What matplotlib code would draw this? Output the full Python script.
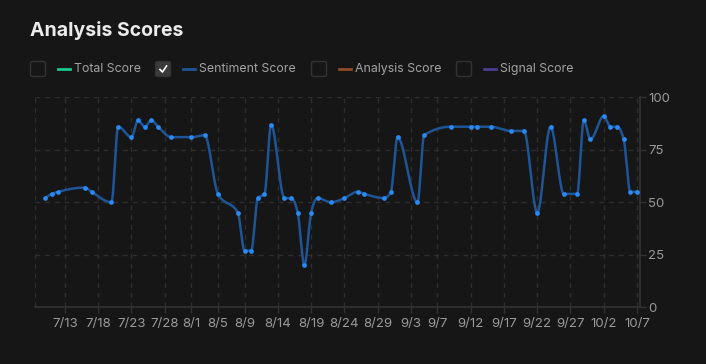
import matplotlib
matplotlib.use("Agg")
import matplotlib.pyplot as plt
import matplotlib.dates as mdates
from matplotlib.patches import FancyBboxPatch
from matplotlib.lines import Line2D
import numpy as np
import datetime as dt

# ---- data ----
dates = ["07-10", "07-11", "07-12", "07-16", "07-17", "07-20", "07-21", "07-23", "07-24",
         "07-25", "07-26", "07-27", "07-29", "08-01", "08-03", "08-05", "08-08", "08-09",
         "08-10", "08-11", "08-12", "08-13", "08-15", "08-16", "08-17", "08-18", "08-19",
         "08-20", "08-22", "08-24", "08-26", "08-27", "08-30", "08-31", "09-01", "09-04",
         "09-05", "09-09", "09-12", "09-13", "09-15", "09-18", "09-20", "09-22", "09-24",
         "09-26", "09-28", "09-29", "09-30", "10-02", "10-03", "10-04", "10-05", "10-06",
         "10-07"]
sentiment = [52, 54, 55, 57, 55, 50, 86, 81, 89,
             86, 89, 86, 81, 81, 82, 54, 45, 27,
             27, 52, 54, 87, 52, 52, 45, 20, 45,
             52, 50, 52, 55, 54, 52, 55, 81, 50,
             82, 86, 86, 86, 86, 84, 84, 45, 86,
             54, 54, 89, 80, 91, 86, 86, 80, 55,
             55]
tick_labels = ["7/13", "7/18", "7/23", "7/28", "8/1", "8/5", "8/9", "8/14", "8/19", "8/24",
               "8/29", "9/3", "9/7", "9/12", "9/17", "9/22", "9/27", "10/2", "10/7"]
y_ticks = [0, 25, 50, 75, 100]
legend_names = ["Total Score", "Sentiment Score", "Analysis Score", "Signal Score"]
legend_colors = ["#16c98d", "#1f5596", "#8f4a26", "#4a3e93"]
legend_checked = [False, True, False, False]

YEAR = 2025
W, H = 706, 364
BG = "#161616"
FONT = "Inter"

def to_date(s):
    m, d = s.split("-")
    return dt.datetime(YEAR, int(m), int(d))

xd = mdates.date2num([to_date(s) for s in dates])
yv = np.array(sentiment, dtype=float)
tick_pos = mdates.date2num([dt.datetime(YEAR, int(t.split("/")[0]), int(t.split("/")[1])) for t in tick_labels])

def monotone_x(x, y, n=24):
    # monotone cubic (Fritsch-Carlson / d3 curveMonotoneX style) rendering of the series
    x = np.asarray(x, float); y = np.asarray(y, float)
    N = len(x)
    h = np.diff(x)
    s = np.diff(y) / h
    t = np.zeros(N)
    for i in range(1, N - 1):
        h0, h1, s0, s1 = h[i - 1], h[i], s[i - 1], s[i]
        p = (s0 * h1 + s1 * h0) / (h0 + h1)
        t[i] = (np.sign(s0) + np.sign(s1)) * min(abs(s0), abs(s1), 0.5 * abs(p))
    t[0] = (3 * s[0] - t[1]) / 2
    t[-1] = (3 * s[-1] - t[-2]) / 2
    outx, outy = [], []
    ts = np.linspace(0, 1, n, endpoint=False)
    for i in range(N - 1):
        dx = h[i] / 3
        P0 = (x[i], y[i]); P1 = (x[i] + dx, y[i] + dx * t[i])
        P2 = (x[i + 1] - dx, y[i + 1] - dx * t[i + 1]); P3 = (x[i + 1], y[i + 1])
        for u in ts:
            a, b, c, d = (1 - u) ** 3, 3 * (1 - u) ** 2 * u, 3 * (1 - u) * u * u, u ** 3
            outx.append(a * P0[0] + b * P1[0] + c * P2[0] + d * P3[0])
            outy.append(a * P0[1] + b * P1[1] + c * P2[1] + d * P3[1])
    outx.append(x[-1]); outy.append(y[-1])
    return np.array(outx), np.array(outy)

fig = plt.figure(figsize=(W / 100, H / 100), dpi=100, facecolor=BG)

def fx(px): return px / W
def fy(py): return 1 - py / H

ax = fig.add_axes([fx(35), fy(307.3), fx(640) - fx(35), fy(97.3) - fy(307.3)])
ax.set_facecolor(BG)

x_left = xd[0] - 1.5
x_right = xd[-1] + 0.45
ax.set_xlim(x_left, x_right)
ax.set_ylim(0, 100)

grid_c = "#2e2e2e"
ax.set_xticks(tick_pos)
ax.set_xticklabels(tick_labels)
ax.set_yticks(y_ticks)
ax.yaxis.tick_right()
ax.grid(True, color=grid_c, linestyle=(0, (3.5, 3.5)), linewidth=1)
ax.axvline(x_left, color=grid_c, linestyle=(0, (3.5, 3.5)), linewidth=1)
for s in ["left", "top"]:
    ax.spines[s].set_visible(False)
for s in ["bottom", "right"]:
    ax.spines[s].set_color("#333333")
    ax.spines[s].set_linewidth(1.2)
ax.tick_params(axis="x", colors="#333333", length=4, width=1, labelcolor="#9a9a9a",
               labelsize=9.5, pad=4)
ax.tick_params(axis="y", colors="#333333", length=4, width=1, labelcolor="#9a9a9a",
               labelsize=9.5, pad=2)
for lab in ax.get_xticklabels() + ax.get_yticklabels():
    lab.set_fontfamily(FONT)

cx, cy = monotone_x(xd, yv)
ax.plot(cx, cy, color="#1f5596", linewidth=1.8, solid_capstyle="round", zorder=3)
ax.plot(xd, yv, linestyle="none", marker="o", markersize=3.4, color="#2a8af2",
        markeredgewidth=0, zorder=4)

# title
fig.text(fx(30), fy(31), "Analysis Scores", color="#ececec", fontsize=14, fontweight="bold",
         family=FONT, va="center", ha="left")

# legend
box_x = [30, 155, 311, 456]
for bx, name, col, chk in zip(box_x, legend_names, legend_colors, legend_checked):
    box = FancyBboxPatch((fx(bx + 0.5), fy(76.5)), fx(15), fy(61.5) - fy(76.5),
                         boxstyle="round,pad=0,rounding_size=0.004",
                         transform=fig.transFigure, facecolor="#3a3a3a" if chk else "none",
                         edgecolor="#333333", linewidth=1.0)
    fig.patches.append(box)
    if chk:
        fig.lines.append(Line2D([fx(bx + 5), fx(bx + 7.5), fx(bx + 11.5)],
                                [fy(69.5), fy(72), fy(66)], transform=fig.transFigure,
                                color="white", linewidth=1.2))
    fig.lines.append(Line2D([fx(bx + 28), fx(bx + 40)], [fy(69), fy(69)],
                            transform=fig.transFigure, color=col, linewidth=2))
    fig.text(fx(bx + 44), fy(69), name, color="#a3a3a3", fontsize=8.9, family=FONT,
             va="center", ha="left")

fig.savefig("out.png", dpi=100, facecolor=BG)
